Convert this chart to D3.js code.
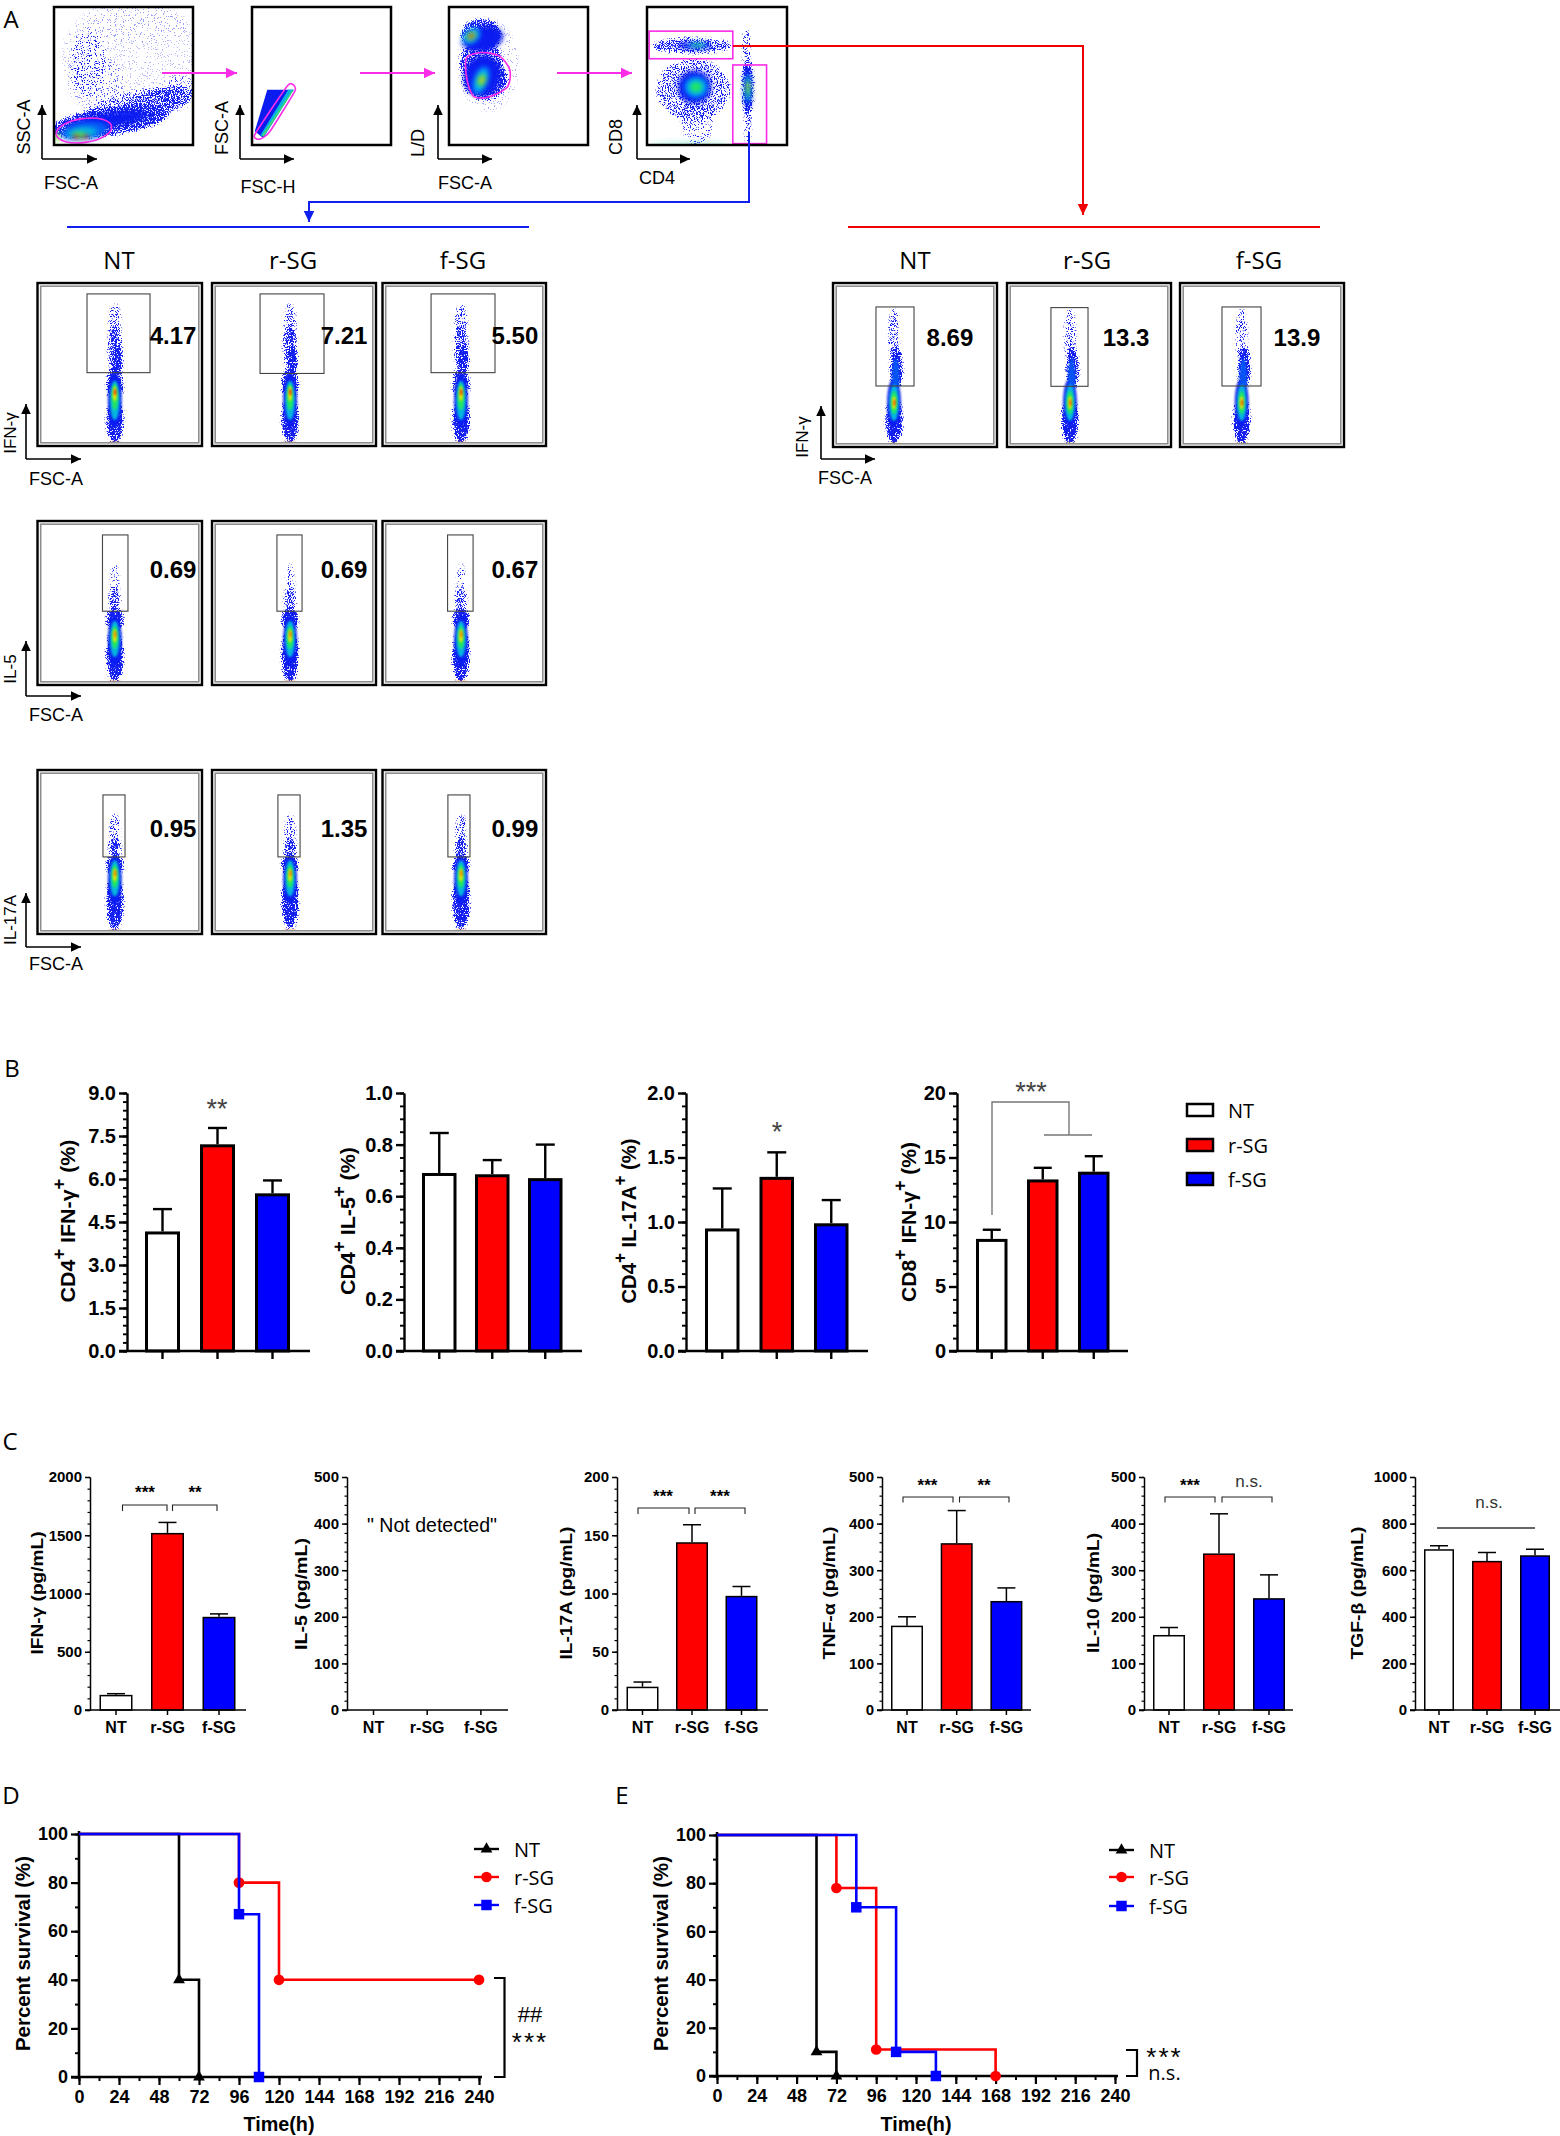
<!DOCTYPE html>
<html lang="en">
<meta charset="utf-8">
<head>
    <script src="https://d3js.org/d3.v7.min.js"></script>
    <style>
        body { margin: 0; background: #fff; }
        text { font-family: "Liberation Sans", Arial, sans-serif; }
        .os { font-family: "Open Sans", sans-serif; }
    </style>
</head>
<body>
<script>
// ---- data ----
const groups = ['NT', 'r-SG', 'f-SG'];
const colors = ['#ffffff', '#ff0000', '#0000ff'];

// B: frequencies, bar value and top of error bar
const cd4Ifn = [4.17, 7.21, 5.50];       const cd4IfnTop = [4.95, 7.78, 5.95];
const cd4Il5 = [0.69, 0.685, 0.67];      const cd4Il5Top = [0.845, 0.74, 0.80];
const cd4Il17 = [0.95, 1.35, 0.99];      const cd4Il17Top = [1.26, 1.54, 1.17];
const cd8Ifn = [8.69, 13.3, 13.9];       const cd8IfnTop = [9.4, 14.2, 15.1];

// C: cytokines pg/mL
const ifnG = [130, 1520, 800];           const ifnGTop = [140, 1610, 825];
const il17a = [20, 144, 98];             const il17aTop = [24, 159, 106];
const tnfA = [181, 358, 234];            const tnfATop = [200, 428, 262];
const il10 = [161, 336, 240];            const il10Top = [177, 421, 290];
const tgfB = [690, 640, 664];            const tgfBTop = [705, 676, 690];

// D / E: survival steps
const dTimes = { NT: [0, 60, 72], r: [0, 96, 120, 240], f: [0, 96, 108] };
const dSurv = { NT: [100, 40, 0], r: [100, 80, 40, 40], f: [100, 67, 0] };
const eTimes = { NT: [0, 60, 72], r: [0, 72, 96, 168], f: [0, 84, 108, 132] };
const eSurv = { NT: [100, 10, 0], r: [100, 78, 11, 0], f: [100, 70, 10, 0] };
const timeTicks = d3.range(0, 241, 24);

// A: gate percentages per row
const rowIfn = ['4.17', '7.21', '5.50'];
const rowIl5 = ['0.69', '0.69', '0.67'];
const rowIl17 = ['0.95', '1.35', '0.99'];
const rowCd8 = ['8.69', '13.3', '13.9'];

// A: density estimates, percent of the plot box: [x, y, rx, ry, rotation, amount]
// speck = how thick the dots are, core = position on the heat colour scale
const p1Speck = [[55, 35, 50, 40, 0, .06], [60, 12, 38, 14, 0, .03], [25, 40, 13, 24, 0, .17], [30, 55, 20, 20, 0, .1],
    [60, 72, 40, 11, -12, .4], [40, 83, 42, 10, -8, .85], [76, 68, 26, 9, -15, .4], [90, 62, 12, 12, -15, .16]];
const p1Core = [[38, 82, 30, 5, -8, 0], [22, 90, 17, 6.5, -8, .12], [20, 91, 11, 4, -5, .3], [18, 93, 5, 2.5, 0, .55],
    [16, 94, 2.2, 1.2, 0, 1], [23, 94, 2.2, 1.2, 0, 1], [2, 94, 2, 3, 0, .6]];
const p3Speck = [[23, 20, 14, 11, 0, .85], [23, 40, 15, 16, 0, .7], [26, 52, 16, 15, 0, .85], [28, 42, 22, 34, 0, .08]];
const p3Core = [[24, 23, 15, 9, -10, 0], [16, 21, 7, 5, -35, .25], [16, 21, 4, 2.8, -35, .6], [16, 21, 2, 1.3, -35, 1],
    [24, 50, 13, 15, 15, 0], [23, 53, 5, 10, 20, .25], [23.5, 53, 3, 5, 20, .55], [23.5, 53, 1.6, 2.2, 20, .8]];
const p4Speck = [[32, 28, 28, 5.5, 0, .6], [71, 30, 2.5, 14, 0, .4], [33, 60, 26, 22, 0, .45], [36, 80, 12, 20, 0, .2],
    [72, 58, 3.8, 20, 0, 1], [72, 85, 2.4, 13, 0, .4]];
const p4Core = [[34, 28, 12, 2.6, 0, 0], [36, 27.5, 7, 1.6, 0, .3], [36, 27.5, 3.5, 1, 0, .45],
    [34, 58, 12, 12, 0, 0], [35, 58, 8, 7.5, 0, .25], [35, 58, 4.5, 4, 0, .5],
    [72, 59, 3, 14, 0, 0], [72, 59, 2.2, 10, 0, .3], [72, 59, 1.3, 6, 0, .55], [72, 57, .7, 3, 0, .75], [30, 98.8, 30, .4, 0, .4]];
// FSC-A / FSC-H diagonal, polygons low to high
const p2Bands = [
    { level: 0, pts: [[11, 60], [30, 60], [8, 95], [2, 90]] },
    { level: .3, pts: [[26, 60], [30, 60], [8.5, 94], [6, 93]] },
    { level: .55, pts: [[28.5, 61], [30, 60], [8, 94], [7.5, 93]] }];

// strips in the small panels: [dx from strip centre, y, rx, ry, rotation, amount]
const ifnSpeck = [[0, 25, 3.6, 12, 0, .4], [0, 40, 4, 14, 0, .6], [1.5, 47, 3, 9, 0, .95], [0, 62, 5, 10, 0, .9], [0, 84, 5, 14, 0, 1]];
const ifnCore = [[0, 72, 4.2, 17, 0, 0], [0, 72, 3, 12, 0, .3], [0, 70, 2, 8, 0, .5], [0, 68, 1.2, 4.5, 0, .75], [.2, 67, .6, 2, 0, 1], [0, 98, 4, .4, 0, .9]];
const il5Speck = [[0, 38, 2.6, 12, 0, .25], [0, 48, 3.5, 7, 0, .55], [0, 60, 5, 7, 0, 1], [0, 82, 5, 16, 0, 1]];
const il5Core = [[0, 73, 4.2, 16, 0, 0], [0, 72, 3, 11, 0, .3], [0, 71, 2, 7, 0, .5], [0, 70, 1.2, 4, 0, .75], [.3, 69, .6, 2, 0, .9], [0, 98, 4, .4, 0, .9]];
const il17Speck = [[0, 38, 3, 11, 0, .4], [0, 48, 3.5, 7, 0, .7], [0, 58, 5, 6, 0, 1], [0, 80, 5, 17, 0, 1]];
const il17Core = [[0, 67, 4.2, 15, 0, 0], [0, 66, 3, 11, 0, .3], [0, 65, 2, 7, 0, .5], [0, 64, 1.2, 4, 0, .75], [.3, 63, .6, 2, 0, .9], [0, 98, 4, .4, 0, .9]];
const cd8Speck = [[0, 32, 3.2, 16, 0, .4], [1.5, 52, 3.6, 13, 0, .95], [0, 84, 5, 14, 0, 1]];
const cd8Core = [[0, 73, 4.2, 15, 0, 0], [1, 58, 2.2, 12, 0, .1], [0, 73, 3, 11, 0, .3], [0, 73, 2, 7, 0, .5], [0, 73, 1.2, 4, 0, .75], [.3, 73, .6, 2, 0, .95], [0, 98, 4, .4, 0, .8]];

// ---- page ----
const svg = d3.select('body').append('svg').attr('width', 1560).attr('height', 2136);
const defs = svg.append('defs');

// dot texture: blurred shape decides how many noise grains come through
const speck = defs.append('filter').attr('id', 'speck').attr('color-interpolation-filters', 'sRGB')
    .attr('x', '-30%').attr('y', '-30%').attr('width', '160%').attr('height', '160%');
speck.append('feGaussianBlur').attr('in', 'SourceAlpha').attr('stdDeviation', 1.6).attr('result', 'b');
speck.append('feTurbulence').attr('type', 'fractalNoise').attr('baseFrequency', 0.85).attr('numOctaves', 2).attr('seed', 4).attr('result', 'n');
speck.append('feColorMatrix').attr('in', 'n').attr('type', 'matrix')
    .attr('values', '0 0 0 0 0  0 0 0 0 0  0 0 0 0 0  3 0 0 0 -1').attr('result', 'na');
speck.append('feComposite').attr('in', 'b').attr('in2', 'na').attr('operator', 'arithmetic')
    .attr('k1', 0).attr('k2', 1).attr('k3', 1).attr('k4', -1).attr('result', 'sum');
speck.append('feComponentTransfer').attr('in', 'sum').attr('result', 'hard')
    .append('feFuncA').attr('type', 'linear').attr('slope', 5).attr('intercept', 0);
speck.append('feFlood').attr('flood-color', '#1420f0').attr('result', 'ink');
speck.append('feComposite').attr('in', 'ink').attr('in2', 'hard').attr('operator', 'in');

[['soft', 1.2], ['soft2', 2.6]].forEach(f => {
    defs.append('filter').attr('id', f[0]).attr('color-interpolation-filters', 'sRGB')
        .attr('x', '-30%').attr('y', '-30%').attr('width', '160%').attr('height', '160%')
        .append('feGaussianBlur').attr('stdDeviation', f[1]);
});

const heat = d3.scaleLinear().domain([0, .25, .5, .75, 1])
    .range(['#0a1cf0', '#00a8ff', '#20e860', '#f0e800', '#ff1000']);

let clipId = 0;

function label(x, y, str, size, opt) {
    opt = opt || {};
    const t = svg.append('text')
        .attr('text-anchor', opt.anchor || 'middle')
        .attr('dominant-baseline', 'central')
        .attr('font-size', size)
        .attr('font-weight', opt.bold ? 'bold' : 'normal')
        .attr('fill', opt.fill || '#000')
        .attr('transform', `translate(${x},${y})` + (opt.rot ? ' rotate(-90)' : ''))
        .text(str);
    if (opt.os) t.attr('class', 'os');
    if (opt.len) t.attr('textLength', opt.len).attr('lengthAdjust', 'spacingAndGlyphs');
    if (opt.spacing) t.attr('letter-spacing', opt.spacing);
    return t;
}

// stars sit high in the em box, pull them down onto the wanted centre
function stars(x, y, str, size, opt) {
    return label(x, y + size * 0.2, str, size, opt);
}

function arrow(pts, color, width, head) {
    svg.append('path').attr('d', d3.line()(pts)).attr('fill', 'none').attr('stroke', color).attr('stroke-width', width);
    const a = pts[pts.length - 2], b = pts[pts.length - 1];
    const ang = Math.atan2(b[1] - a[1], b[0] - a[0]) * 180 / Math.PI;
    svg.append('path').attr('d', `M0,0L${-head},${-head * 0.48}L${-head},${head * 0.48}Z`).attr('fill', color)
        .attr('transform', `translate(${b[0]},${b[1]}) rotate(${ang})`);
}

function axesArrows(ox, oy, top, right) {
    arrow([[ox, oy], [ox, top]], '#000', 1.6, 10);
    arrow([[ox, oy], [right, oy]], '#000', 1.6, 10);
}

// one density plot: dots below, heat colours on top, clipped to the box
function density(x0, x1, y0, y1, speckRows, coreRows, pad, blur) {
    const x = d3.scaleLinear().domain([0, 100]).range([x0, x1]);
    const y = d3.scaleLinear().domain([0, 100]).range([y0, y1]);
    const id = 'clip' + (clipId++);
    defs.append('clipPath').attr('id', id).append('rect')
        .attr('x', x0 + pad).attr('y', y0 + pad).attr('width', x1 - x0 - 2 * pad).attr('height', y1 - y0 - 2 * pad);
    const g = svg.append('g').attr('clip-path', `url(#${id})`);
    const place = sel => sel
        .attr('cx', d => x(d[0])).attr('cy', d => y(d[1]))
        .attr('rx', d => x(d[2]) - x0).attr('ry', d => y(d[3]) - y0)
        .attr('transform', d => `rotate(${d[4]},${x(d[0])},${y(d[1])})`);
    g.append('g').attr('filter', 'url(#speck)').selectAll(null).data(speckRows).join('ellipse').call(place)
        .attr('fill', '#000').attr('fill-opacity', d => d[5]);
    g.append('g').attr('filter', `url(#${blur})`).selectAll(null).data(coreRows).join('ellipse').call(place)
        .attr('fill', d => heat(d[5]));
    return { x, y, g };
}

function topBox(x0, x1, y0, y1) {
    svg.append('rect').attr('x', x0).attr('y', y0).attr('width', x1 - x0).attr('height', y1 - y0)
        .attr('fill', 'none').attr('stroke', '#000').attr('stroke-width', 2.5);
}

// ---- panel A, gating row ----
const magenta = '#fb2ce8';
label(11, 18, 'A', 24, { os: true });

const p1 = density(54, 193, 7, 145, p1Speck, p1Core, 0, 'soft2');
svg.append('ellipse').attr('cx', p1.x(21.5)).attr('cy', p1.y(89.5)).attr('rx', 28).attr('ry', 12)
    .attr('transform', `rotate(-8,${p1.x(21.5)},${p1.y(89.5)})`)
    .attr('fill', 'none').attr('stroke', magenta).attr('stroke-width', 1.6);
topBox(54, 193, 7, 145);

const p2 = density(252, 391, 7, 145, [], [], 0, 'soft2');
p2Bands.forEach(b => {
    svg.append('path').attr('d', d3.line().x(d => p2.x(d[0])).y(d => p2.y(d[1])).curve(d3.curveLinearClosed)(b.pts))
        .attr('fill', heat(b.level));
});
svg.append('path').attr('d', d3.line().x(d => p2.x(d[0])).y(d => p2.y(d[1])).curve(d3.curveCardinalClosed.tension(.5))(
    [[2, 92.5], [26, 56.5], [31, 60.5], [13, 90], [6, 95.7]]))
    .attr('fill', 'none').attr('stroke', magenta).attr('stroke-width', 1.6);
topBox(252, 391, 7, 145);

const p3 = density(449, 588, 7, 145, p3Speck, p3Core, 0, 'soft2');
svg.append('path').attr('d', d3.line().x(d => p3.x(d[0])).y(d => p3.y(d[1])).curve(d3.curveCardinalClosed.tension(.2))(
    [[12.5, 37], [23.5, 33], [36.4, 35.6], [43.8, 45.7], [42, 58], [29, 65], [18, 65], [13, 53]]))
    .attr('fill', 'none').attr('stroke', magenta).attr('stroke-width', 1.6);
topBox(449, 588, 7, 145);

const p4 = density(647, 787, 7, 145, p4Speck, p4Core, 0, 'soft2');
[[1.5, 17.5, 61.3, 37.5], [61.3, 42, 85.4, 99]].forEach(r => {
    svg.append('rect').attr('x', p4.x(r[0])).attr('y', p4.y(r[1]))
        .attr('width', p4.x(r[2]) - p4.x(r[0])).attr('height', p4.y(r[3]) - p4.y(r[1]))
        .attr('fill', 'none').attr('stroke', magenta).attr('stroke-width', 1.6);
});
topBox(647, 787, 7, 145);

axesArrows(42, 159, 105, 97);
axesArrows(240, 159, 105, 294);
axesArrows(438, 159, 105, 492);
axesArrows(637, 159, 105, 690);
label(24, 127, 'SSC-A', 18, { rot: true });
label(71, 183, 'FSC-A', 18);
label(222, 128, 'FSC-A', 18, { rot: true });
label(268, 187, 'FSC-H', 18);
label(418, 143, 'L/D', 18, { rot: true });
label(465, 183, 'FSC-A', 18);
label(616, 137, 'CD8', 18, { rot: true });
label(657, 178, 'CD4', 18);

arrow([[162, 73], [237, 73]], magenta, 2, 11);
arrow([[360, 73], [435, 73]], magenta, 2, 11);
arrow([[557, 73], [632, 73]], magenta, 2, 11);

arrow([[733, 46], [1083, 46], [1083, 215]], '#f00000', 2, 11);
arrow([[749, 132], [749, 202], [309, 202], [309, 222]], '#1020f0', 2, 11);
svg.append('line').attr('x1', 67).attr('x2', 529).attr('y1', 227).attr('y2', 227).attr('stroke', '#1020f0').attr('stroke-width', 2);
svg.append('line').attr('x1', 848).attr('x2', 1320).attr('y1', 227).attr('y2', 227).attr('stroke', '#f00000').attr('stroke-width', 2);

// ---- panel A, small panels ----
function cell(x0, x1, y0, y1, centre, speckRows, coreRows, gate, valueX, valueY, value) {
    const at = rows => rows.map(r => [centre + r[0], r[1], r[2], r[3], r[4], r[5]]);
    const plot = density(x0, x1, y0, y1, at(speckRows), at(coreRows), 4, 'soft');
    svg.append('rect').attr('x', x0).attr('y', y0).attr('width', x1 - x0).attr('height', y1 - y0)
        .attr('fill', 'none').attr('stroke', '#000').attr('stroke-width', 2.4);
    svg.append('rect').attr('x', x0 + 3.2).attr('y', y0 + 3.2).attr('width', x1 - x0 - 6.4).attr('height', y1 - y0 - 6.4)
        .attr('fill', 'none').attr('stroke', '#8e8e8e').attr('stroke-width', 1.6);
    svg.append('rect').attr('x', plot.x(gate[0])).attr('y', plot.y(gate[2]))
        .attr('width', plot.x(gate[1]) - plot.x(gate[0])).attr('height', plot.y(gate[3]) - plot.y(gate[2]))
        .attr('fill', 'none').attr('stroke', '#444').attr('stroke-width', 1.1);
    label(plot.x(valueX), plot.y(valueY), value, 24, { bold: true });
}

const leftCols = [[37.5, 202], [212, 376], [382.5, 546]];
const rightCols = [[833, 997], [1007, 1171], [1180, 1344]];

const ifnGates = [[30.1, 68.4, 6.7, 55], [29.3, 68.3, 6.7, 55.5], [29.7, 68.8, 6.7, 55]];
const il5Gates = [[39.5, 55, 8.5, 55], [39.6, 54.9, 8.5, 55], [39.8, 55.4, 8.5, 55]];
const il17Gates = [[39.8, 53.2, 15.2, 53], [40.2, 53.7, 15.2, 53], [40, 53.5, 15.2, 53]];
const cd8Gates = [[26.2, 49.4, 14.6, 62.8], [26.8, 49.4, 15, 63], [25.6, 49.4, 14.6, 62.8]];
const leftCentres = [47, 47.6, 48];
const rightCentres = [37.2, 38.4, 37.6];
const leftValueX = [82.4, 80.5, 81];
const rightValueX = [71.3, 72.6, 71.3];

leftCols.forEach((c, i) => {
    cell(c[0], c[1], 283, 446, leftCentres[i], ifnSpeck, ifnCore, ifnGates[i], leftValueX[i], 32, rowIfn[i]);
    cell(c[0], c[1], 521, 685, leftCentres[i], il5Speck, il5Core, il5Gates[i], leftValueX[i], 29.3, rowIl5[i]);
    cell(c[0], c[1], 770, 934, leftCentres[i], il17Speck, il17Core, il17Gates[i], leftValueX[i], 35.4, rowIl17[i]);
});
rightCols.forEach((c, i) => {
    cell(c[0], c[1], 283, 447, rightCentres[i], cd8Speck, cd8Core, cd8Gates[i], rightValueX[i], 33, rowCd8[i]);
});

[119, 293, 463].forEach((x, i) => label(x, 259, groups[i], 24, { os: true }));
[915, 1087, 1259].forEach((x, i) => label(x, 259, groups[i], 24, { os: true }));

axesArrows(26, 459, 404, 81);
axesArrows(26, 696, 641, 81);
axesArrows(26, 947, 893, 81);
axesArrows(821, 459, 406, 875);
label(10, 433, 'IFN-γ', 17, { rot: true });
label(56, 479, 'FSC-A', 18);
label(10, 669, 'IL-5', 17, { rot: true });
label(56, 715, 'FSC-A', 18);
label(10, 920, 'IL-17A', 17, { rot: true });
label(56, 964, 'FSC-A', 18);
label(802, 437, 'IFN-γ', 17, { rot: true });
label(845, 478, 'FSC-A', 18);

// ---- bar charts ----
function barChart(c) {
    const y = d3.scaleLinear().domain([0, c.yMax]).range([c.bottom, c.top]);
    const gap = c.step - c.barW;
    const x = d3.scaleBand().domain(groups).range([c.firstBar - gap / 2, c.firstBar - gap / 2 + 3 * c.step])
        .paddingInner(gap / c.step).paddingOuter(gap / c.step / 2);
    const mid = d => x(d) + x.bandwidth() / 2;
    const inset = c.barStroke / 2;

    if (c.values) {
        svg.selectAll(null).data(groups).join('line')
            .attr('x1', mid).attr('x2', mid)
            .attr('y1', (d, i) => y(c.values[i])).attr('y2', (d, i) => y(c.tops[i]))
            .attr('stroke', '#000').attr('stroke-width', c.weight);
        svg.selectAll(null).data(groups).join('line')
            .attr('x1', d => mid(d) - c.cap).attr('x2', d => mid(d) + c.cap)
            .attr('y1', (d, i) => y(c.tops[i])).attr('y2', (d, i) => y(c.tops[i]))
            .attr('stroke', '#000').attr('stroke-width', c.weight);
        svg.selectAll(null).data(groups).join('rect')
            .attr('x', d => x(d) + inset).attr('width', x.bandwidth() - 2 * inset)
            .attr('y', (d, i) => y(c.values[i]) + inset).attr('height', (d, i) => y(0) - y(c.values[i]) - inset)
            .attr('fill', (d, i) => colors[i]).attr('stroke', '#000').attr('stroke-width', c.barStroke);
    }

    const yAxis = d3.axisLeft(y).tickValues(d3.range(0, c.yMax + c.major / 2, c.major))
        .tickFormat(d3.format(c.fmt)).tickSize(c.tickLen).tickPadding(3).tickSizeOuter(0);
    const yMinor = d3.axisLeft(y).tickValues(d3.range(0, c.yMax + c.minor / 2, c.minor))
        .tickFormat('').tickSize(c.tickLen / 2).tickSizeOuter(0);
    svg.append('g').attr('transform', `translate(${c.axisX},0)`).call(yMinor)
        .call(g => g.selectAll('line').attr('stroke-width', c.weight * .8));
    svg.append('g').attr('transform', `translate(${c.axisX},0)`).call(yAxis)
        .attr('font-family', null).attr('font-size', c.tickFont).attr('font-weight', 'bold')
        .call(g => g.select('.domain').attr('stroke-width', c.weight))
        .call(g => g.selectAll('line').attr('stroke-width', c.weight));

    const xAxis = d3.axisBottom(x).tickSize(c.tickLen).tickPadding(c.catPad).tickSizeOuter(0);
    if (!c.showCats) xAxis.tickFormat('');
    svg.append('g').attr('transform', `translate(0,${c.bottom})`).call(xAxis)
        .attr('font-family', null).attr('font-size', c.catFont).attr('font-weight', 'bold')
        .call(g => g.select('.domain').remove())
        .call(g => g.selectAll('line').attr('stroke-width', c.weight));
    svg.append('line').attr('x1', c.axisX - c.tickLen).attr('x2', c.xEnd).attr('y1', c.bottom).attr('y2', c.bottom)
        .attr('stroke', '#000').attr('stroke-width', c.weight);
}

function supTitle(x, y, parts, size, len) {
    const t = svg.append('text').attr('text-anchor', 'middle').attr('dominant-baseline', 'central')
        .attr('font-size', size).attr('font-weight', 'bold')
        .attr('transform', `translate(${x},${y}) rotate(-90)`);
    parts.forEach((p, i) => {
        const sp = t.append('tspan').text(p);
        if (i % 2 === 1) sp.attr('dy', -8).attr('font-size', size * .85);
        else if (i > 0) sp.attr('dy', 8);
    });
    if (len) t.attr('textLength', len).attr('lengthAdjust', 'spacingAndGlyphs');
}

// panel B
const panelB = { top: 1093, bottom: 1351, barW: 35, step: 55, cap: 9.5, weight: 2.4, barStroke: 3, tickLen: 8, tickFont: 20, catFont: 1, catPad: 0, showCats: false };
label(12, 1067, 'B', 24, { os: true });
barChart({ ...panelB, yMax: 9, major: 1.5, minor: .3, fmt: '.1f', axisX: 127, firstBar: 145, xEnd: 310, values: cd4Ifn, tops: cd4IfnTop });
barChart({ ...panelB, yMax: 1, major: .2, minor: .05, fmt: '.1f', axisX: 404, firstBar: 422, step: 53, barW: 34.5, xEnd: 582, values: cd4Il5, tops: cd4Il5Top });
barChart({ ...panelB, yMax: 2, major: .5, minor: .1, fmt: '.1f', axisX: 686, firstBar: 705, step: 54.5, barW: 34.5, xEnd: 868, values: cd4Il17, tops: cd4Il17Top });
barChart({ ...panelB, yMax: 20, major: 5, minor: 1, fmt: 'd', axisX: 957, firstBar: 976, step: 51, barW: 31.5, cap: 9, xEnd: 1128, values: cd8Ifn, tops: cd8IfnTop });
supTitle(67, 1221, ['CD4', '+', ' IFN-γ', '+', ' (%)'], 21, 163);
supTitle(347, 1221, ['CD4', '+', ' IL-5', '+', ' (%)'], 21, 148);
supTitle(628, 1221, ['CD4', '+', ' IL-17A', '+', ' (%)'], 21, 165);
supTitle(908, 1222, ['CD8', '+', ' IFN-γ', '+', ' (%)'], 21, 160);
stars(217, 1104, '**', 27, { fill: '#444' });
stars(777, 1127, '*', 27, { fill: '#444' });
stars(1031, 1087, '***', 27, { fill: '#444' });
svg.append('path').attr('d', 'M992,1215V1102H1069V1135M1044,1135H1092').attr('fill', 'none').attr('stroke', '#777').attr('stroke-width', 1.4);

// legend of panel B
[1110, 1145, 1179].forEach((y, i) => {
    svg.append('rect').attr('x', 1187).attr('y', y - 6).attr('width', 26).attr('height', 12)
        .attr('fill', colors[i]).attr('stroke', '#000').attr('stroke-width', 2.5);
    label(1228, y, groups[i], 20, { anchor: 'start', os: true });
});

// panel C
const panelC = { top: 1477, bottom: 1710, barW: 33, step: 51.5, cap: 9, weight: 1.5, barStroke: 1.5, tickLen: 5, tickFont: 15, catFont: 16, catPad: 7, showCats: true };
label(10, 1440, 'C', 24, { os: true });
barChart({ ...panelC, yMax: 2000, major: 500, minor: 100, fmt: 'd', axisX: 90, firstBar: 99.5, xEnd: 246, values: ifnG, tops: ifnGTop });
barChart({ ...panelC, yMax: 500, major: 100, minor: 20, fmt: 'd', axisX: 347, firstBar: 357, step: 53.7, barW: 33, xEnd: 508 });
barChart({ ...panelC, yMax: 200, major: 50, minor: 10, fmt: 'd', axisX: 617, firstBar: 626.5, step: 49.5, barW: 32, xEnd: 768, values: il17a, tops: il17aTop });
barChart({ ...panelC, yMax: 500, major: 100, minor: 20, fmt: 'd', axisX: 882, firstBar: 891, step: 49.7, barW: 32, xEnd: 1031, values: tnfA, tops: tnfATop });
barChart({ ...panelC, yMax: 500, major: 100, minor: 20, fmt: 'd', axisX: 1144, firstBar: 1153, step: 50, barW: 32, xEnd: 1293, values: il10, tops: il10Top });
barChart({ ...panelC, yMax: 1000, major: 200, minor: 40, fmt: 'd', axisX: 1415, firstBar: 1424, step: 48, barW: 30, xEnd: 1560, values: tgfB, tops: tgfBTop });

label(37, 1593, 'IFN-γ (pg/mL)', 17, { rot: true, bold: true, len: 123 });
label(301, 1594, 'IL-5 (pg/mL)', 17, { rot: true, bold: true, len: 112 });
label(566, 1593, 'IL-17A (pg/mL)', 17, { rot: true, bold: true, len: 133 });
label(829, 1593, 'TNF-α (pg/mL)', 17, { rot: true, bold: true, len: 133 });
label(1093, 1593, 'IL-10 (pg/mL)', 17, { rot: true, bold: true, len: 120 });
label(1357, 1593, 'TGF-β (pg/mL)', 17, { rot: true, bold: true, len: 133 });
label(432, 1525, '" Not detected"', 20, { len: 130 });

function bracket(x1, x2, y, drop) {
    svg.append('path').attr('d', `M${x1},${y + drop}V${y}H${x2}V${y + drop}`).attr('fill', 'none').attr('stroke', '#222').attr('stroke-width', 1.1);
}
bracket(122.5, 167, 1505, 6); bracket(172.5, 217, 1505, 6);
stars(145, 1489, '***', 17, { bold: true }); stars(195, 1489, '**', 17, { bold: true });
bracket(638, 689, 1508, 6); bracket(695, 745, 1508, 6);
stars(663, 1493, '***', 17, { bold: true }); stars(720, 1493, '***', 17, { bold: true });
bracket(903, 953, 1497, 5.5); bracket(959.5, 1009, 1497, 5.5);
stars(927.5, 1482, '***', 17, { bold: true }); stars(984, 1482, '**', 17, { bold: true });
bracket(1165, 1215, 1497, 5.5); bracket(1222, 1272, 1497, 5.5);
stars(1190, 1482, '***', 17, { bold: true });
label(1249, 1481, 'n.s.', 17, { fill: '#333' });
label(1489, 1502, 'n.s.', 17, { fill: '#333' });
svg.append('line').attr('x1', 1437).attr('x2', 1535).attr('y1', 1528).attr('y2', 1528).attr('stroke', '#333').attr('stroke-width', 1.3);

// ---- survival curves ----
const curveColors = { NT: '#000', r: '#ff0000', f: '#0000ff' };
const symbols = { NT: d3.symbolTriangle, r: d3.symbolCircle, f: d3.symbolSquare };
const symSize = { NT: 60, r: 90, f: 110 };

function survival(c) {
    const x = d3.scaleLinear().domain([0, 240]).range([c.left, c.right]);
    const y = d3.scaleLinear().domain([0, 100]).range([c.bottom, c.top]);

    svg.append('g').attr('transform', `translate(0,${c.bottom})`)
        .call(d3.axisBottom(x).tickValues(d3.range(0, 241, 12)).tickFormat('').tickSize(4).tickSizeOuter(0))
        .call(g => g.select('.domain').remove())
        .call(g => g.selectAll('line').attr('stroke-width', 2));
    svg.append('g').attr('transform', `translate(0,${c.bottom})`)
        .call(d3.axisBottom(x).tickValues(timeTicks).tickSize(8).tickPadding(5).tickSizeOuter(0))
        .attr('font-family', null).attr('font-size', 18).attr('font-weight', 'bold')
        .call(g => g.select('.domain').remove())
        .call(g => g.selectAll('line').attr('stroke-width', 2.2));
    svg.append('line').attr('x1', c.left - 8).attr('x2', c.right + 3).attr('y1', c.bottom).attr('y2', c.bottom).attr('stroke', '#000').attr('stroke-width', 2.6);

    svg.append('g').attr('transform', `translate(${c.left},0)`)
        .call(d3.axisLeft(y).tickValues(d3.range(0, 101, 10)).tickFormat('').tickSize(4).tickSizeOuter(0))
        .call(g => g.selectAll('line').attr('stroke-width', 2))
        .call(g => g.select('.domain').remove());
    svg.append('g').attr('transform', `translate(${c.left},0)`)
        .call(d3.axisLeft(y).tickValues(d3.range(0, 101, 20)).tickSize(8).tickPadding(3).tickSizeOuter(0))
        .attr('font-family', null).attr('font-size', 18).attr('font-weight', 'bold')
        .call(g => g.select('.domain').remove())
        .call(g => g.selectAll('line').attr('stroke-width', 2.2));
    svg.append('line').attr('x1', c.left).attr('x2', c.left).attr('y1', c.bottom).attr('y2', c.top - 3).attr('stroke', '#000').attr('stroke-width', 2.6);

    const line = d3.line().x(d => x(d[0])).y(d => y(d[1])).curve(d3.curveStepAfter);
    ['r', 'NT', 'f'].forEach(k => {
        const pts = c.times[k].map((t, i) => [t, c.surv[k][i]]);
        svg.append('path').attr('d', line(pts)).attr('fill', 'none').attr('stroke', curveColors[k]).attr('stroke-width', 2.6);
        svg.selectAll(null).data(pts.slice(1)).join('path')
            .attr('d', d3.symbol().type(symbols[k]).size(symSize[k]))
            .attr('transform', d => `translate(${x(d[0])},${y(d[1])})`)
            .attr('fill', curveColors[k]);
    });

    label(c.left - 56, (c.top + c.bottom) / 2 - 2, 'Percent survival (%)', 20, { rot: true, bold: true, len: 195 });
    label((c.left + c.right) / 2, 2123, 'Time(h)', 21, { bold: true, len: 71 });

    ['NT', 'r', 'f'].forEach((k, i) => {
        const ly = c.legendY[i];
        svg.append('line').attr('x1', c.legendX).attr('x2', c.legendX + 25).attr('y1', ly).attr('y2', ly).attr('stroke', curveColors[k]).attr('stroke-width', 2.4);
        svg.append('path').attr('d', d3.symbol().type(symbols[k]).size(symSize[k]))
            .attr('transform', `translate(${c.legendX + 12.5},${ly})`).attr('fill', curveColors[k]);
        label(c.legendX + 40, ly, groups[i], 20, { anchor: 'start', os: true });
    });
}

label(11, 1794, 'D', 24, { os: true });
survival({ left: 79, right: 479, top: 1834, bottom: 2077, times: dTimes, surv: dSurv, legendX: 474, legendY: [1849, 1877, 1905] });
svg.append('path').attr('d', 'M494,1978H504.5V2077H494').attr('fill', 'none').attr('stroke', '#000').attr('stroke-width', 2.2);
label(530, 2014, '##', 22);
stars(530, 2037, '***', 26, { spacing: 2 });

label(622, 1794, 'E', 24, { os: true });
survival({ left: 717, right: 1115, top: 1835, bottom: 2076, times: eTimes, surv: eSurv, legendX: 1109, legendY: [1850, 1877, 1906] });
svg.append('path').attr('d', 'M1126,2050H1137V2076H1126').attr('fill', 'none').attr('stroke', '#000').attr('stroke-width', 2.2);
stars(1164.5, 2052, '***', 26, { spacing: 2 });
label(1164.5, 2072, 'n.s.', 20, { os: true });
</script>
</body>
</html>
